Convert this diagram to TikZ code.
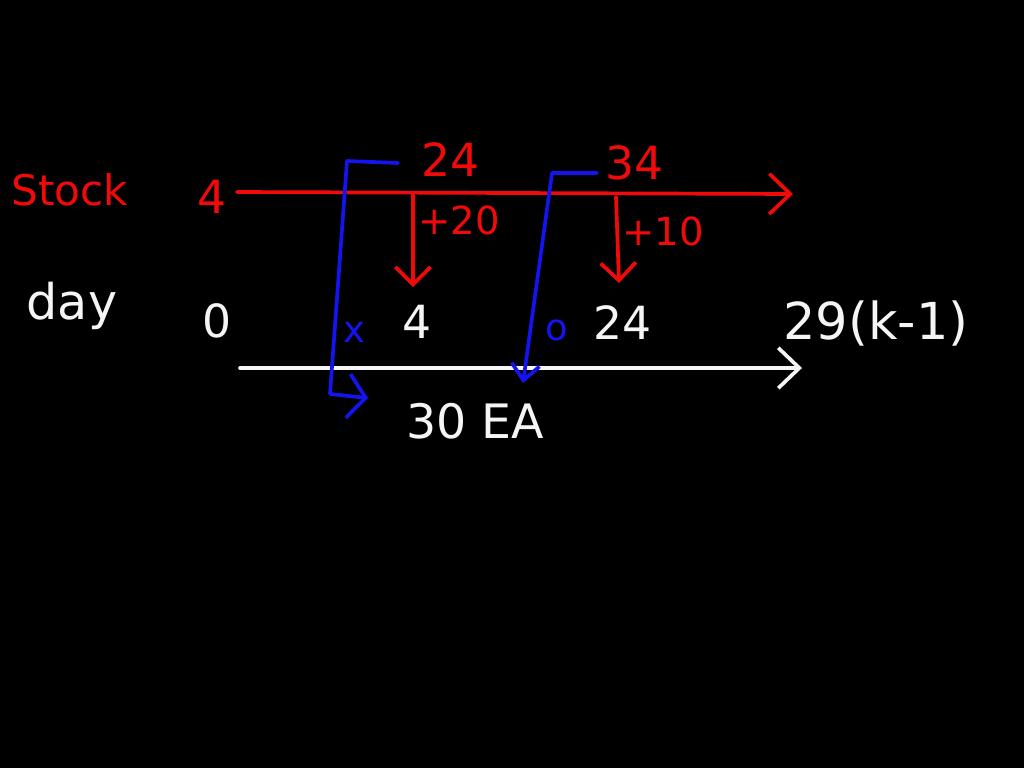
\documentclass[tikz,border=0pt]{standalone}
\usepackage{fontspec}
\setmainfont{DejaVu Sans}
\usetikzlibrary{arrows.meta}
\definecolor{penred}{RGB}{240,10,10}
\definecolor{penblue}{RGB}{20,20,240}
\definecolor{penwhite}{RGB}{245,245,245}
\tikzset{
  ink/.style={line width=2.1pt, line cap=round, line join=round},
  redink/.style={ink, draw=penred},
  blueink/.style={ink, draw=penblue},
  whiteink/.style={ink, draw=penwhite},
  barb/.style={-{Straight Barb[length=12pt,width=23pt,line width=2.1pt]}},
  smallbarb/.style={-{Straight Barb[length=10pt,width=20pt,line width=2.1pt]}},
  txt/.style={inner sep=0pt, font=\fontsize{26}{30}\selectfont},
  redtxt/.style={txt, text=penred},
  whitetxt/.style={txt, text=penwhite},
  bluetxt/.style={txt, text=penblue},
}
\begin{document}
\begin{tikzpicture}[x=0.02cm, y=-0.02cm]
\useasboundingbox (0,0) rectangle (1024,768);
\fill[black] (0,0) rectangle (1024,768);

% labels
\node[redtxt, font=\fontsize{24}{28}\selectfont] (stock) at (70,190) {Stock};
\node[redtxt] (s4) at (212,197) {4};
\node[redtxt] (s24) at (451,160) {24};
\node[redtxt] (s34) at (635,163) {34};
\node[redtxt, font=\fontsize{22}{26}\selectfont] (p20) at (459,220) {+20};
\node[redtxt, font=\fontsize{22}{26}\selectfont] (p10) at (663,231) {+10};

\node[whitetxt, font=\fontsize{28}{32}\selectfont] (day) at (72,306) {day};
\node[whitetxt] (d0) at (217,321) {0};
\node[whitetxt] (d4) at (417,322) {4};
\node[whitetxt] (d24) at (623,323) {24};
\node[whitetxt, font=\fontsize{29}{33}\selectfont] (d29) at (876,323) {29(k-1)};
\node[whitetxt, font=\fontsize{27}{31}\selectfont] (ea) at (475,421) {30 EA};

\node[bluetxt, font=\fontsize{21}{24}\selectfont] (bx) at (354,332) {x};
\node[bluetxt, font=\fontsize{21}{24}\selectfont] (bo) at (557,330) {o};

% coordinates
\coordinate (sl0) at (237,192);
\coordinate (sl1) at (793,194);
\coordinate (sa) at (413,195);
\coordinate (sae) at (413,287);
\coordinate (sb) at (616,197);
\coordinate (sbe) at (619,283);
\coordinate (dl0) at (240,368);
\coordinate (dl1) at (802,368);
\coordinate (b1s) at (398,163);
\coordinate (b1a) at (347,161);
\coordinate (b1b) at (330,394);
\coordinate (b1e) at (368,398);
\coordinate (b2s) at (597,173);
\coordinate (b2a) at (552,173);
\coordinate (b2e) at (523,383);

% red stock line and inflows
\draw[redink, barb] (sl0) -- (sl1);
\draw[redink, smallbarb] (sa) -- (sae);
\draw[redink, smallbarb] (sb) -- (sbe);

% white day line
\draw[whiteink, barb] (dl0) -- (dl1);

% blue orders
\draw[blueink, -{Straight Barb[length=10pt,width=25pt,line width=2.1pt]}] (b1s) -- (b1a) -- (b1b) -- (b1e);
\draw[blueink, -{Straight Barb[length=9pt,width=16pt,line width=2.1pt]}] (b2s) -- (b2a) -- (b2e);
\end{tikzpicture}
\end{document}
